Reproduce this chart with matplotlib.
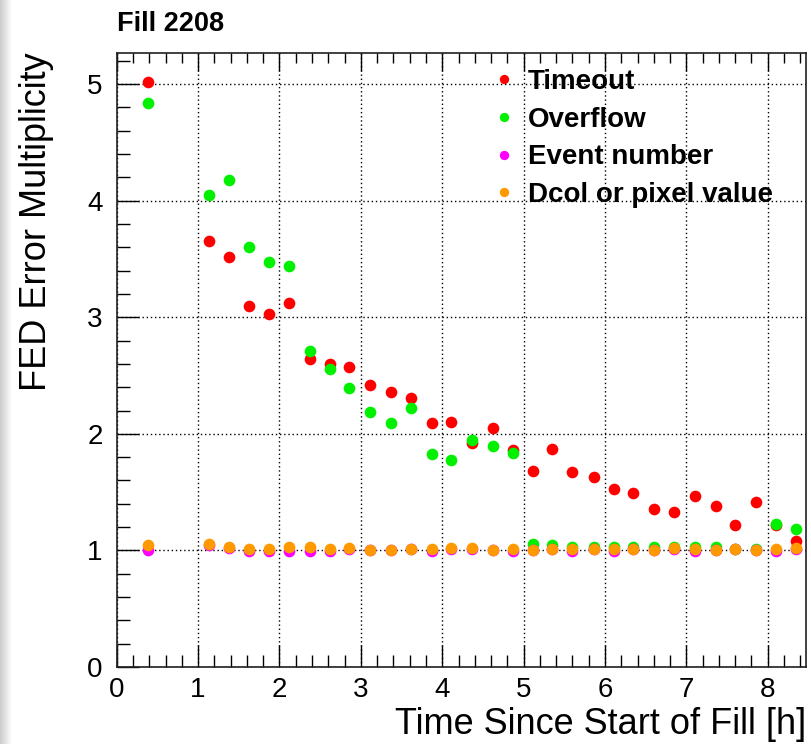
import numpy as np
import matplotlib
matplotlib.use("Agg")
import matplotlib.pyplot as plt
from matplotlib.ticker import MultipleLocator

plt.rcParams['font.family'] = ['Liberation Sans', 'DejaVu Sans']

title = "Fill 2208"
x_label = "Time Since Start of Fill [h]"
y_label = "FED Error Multiplicity"

time_h = [0.38, 1.13, 1.38, 1.62, 1.87, 2.12, 2.375, 2.62, 2.86, 3.11, 3.37, 3.62,
          3.87, 4.11, 4.36, 4.62, 4.87, 5.11, 5.35, 5.60, 5.86, 6.11, 6.35, 6.60,
          6.85, 7.11, 7.36, 7.60, 7.85, 8.10, 8.35]

timeout = [5.02, 3.654, 3.517, 3.10, 3.03, 3.125, 2.64, 2.60, 2.57, 2.42, 2.356, 2.31,
           2.09, 2.10, 1.92, 2.05, 1.86, 1.68, 1.87, 1.67, 1.63, 1.53, 1.49, 1.355,
           1.33, 1.47, 1.38, 1.22, 1.415, 1.22, 1.08]

overflow = [4.84, 4.045, 4.18, 3.60, 3.474, 3.436, 2.71, 2.56, 2.39, 2.19, 2.09, 2.22,
            1.83, 1.78, 1.95, 1.90, 1.84, 1.055, 1.05, 1.03, 1.03, 1.03, 1.03, 1.03,
            1.03, 1.03, 1.03, 1.01, 1.01, 1.23, 1.18]

event_number = [1.0, 1.045, 1.02, 0.997, 0.997, 0.994, 0.995, 0.995, 1.01, 1.0, 1.0, 1.01,
                0.995, 1.015, 1.015, 1.0, 0.995, 1.0, 1.01, 0.995, 1.01, 0.995, 1.01, 1.0,
                1.015, 0.995, 1.0, 1.01, 1.0, 0.995, 1.015]

dcol_pixel = [1.049, 1.054, 1.026, 1.014, 1.014, 1.029, 1.027, 1.012, 1.02, 1.003, 1.003, 1.015,
              1.015, 1.02, 1.02, 1.006, 1.015, 1.003, 1.015, 1.015, 1.015, 1.015, 1.015, 1.003,
              1.02, 1.015, 1.003, 1.015, 1.003, 1.015, 1.02]

series = [
    ("Timeout", timeout, "#ff0000"),
    ("Overflow", overflow, "#00f000"),
    ("Event number", event_number, "#ff00ff"),
    ("Dcol or pixel value", dcol_pixel, "#ff9900"),
]

W, H = 812, 744
fig = plt.figure(figsize=(W / 100, H / 100), dpi=100)
fig.patch.set_facecolor("white")

# light gray shading at the left edge (screenshot border)
gax = fig.add_axes([0, 0, 12 / W, 1])
grad = np.linspace(0.80, 1.0, 64).reshape(1, -1)
gax.imshow(np.dstack([grad, grad, grad]), aspect="auto", extent=[0, 1, 0, 1])
gax.axis("off")

left, right = 116.7 / W, 806 / W
bottom, top = 1 - 667 / H, 1 - 52.7 / H
ax = fig.add_axes([left, bottom, right - left, top - bottom])

for name, vals, col in series:
    ax.plot(time_h, vals, linestyle="none", marker="o", markersize=8.4,
            markeredgewidth=0, color=col, label=name, zorder=3)

ax.set_xlim(0, 8.47)
ax.set_ylim(0, 5.27)
ax.xaxis.set_major_locator(MultipleLocator(1))
ax.xaxis.set_minor_locator(MultipleLocator(0.2))
ax.yaxis.set_major_locator(MultipleLocator(1))
ax.yaxis.set_minor_locator(MultipleLocator(0.2))

ax.grid(True, which="major", linestyle=(0, (1, 2)), color="black", linewidth=1.0)
ax.tick_params(axis="both", which="major", direction="in", length=16, width=1.0,
               labelsize=20, color="black")
ax.tick_params(axis="both", which="minor", direction="in", length=9, width=1.0)
ax.tick_params(axis="x", which="major", pad=7)
ax.tick_params(axis="y", which="major", pad=10)
ax.tick_params(right=False, which="both")

sec = ax.secondary_xaxis("top")
sec.xaxis.set_major_locator(MultipleLocator(1))
sec.xaxis.set_minor_locator(MultipleLocator(0.2))
sec.tick_params(axis="x", which="major", direction="in", length=13, width=1.0, labeltop=False)
sec.tick_params(axis="x", which="minor", direction="in", length=7, width=1.0)
sec.spines["top"].set_visible(False)

for s in ax.spines.values():
    s.set_linewidth(1.2)
    s.set_color("#202020")

ax.set_xlabel(x_label, fontsize=26, loc="right", labelpad=3)
ax.set_ylabel(y_label, fontsize=26, loc="top", labelpad=24)

fig.text(117 / W, 1 - 31 / H, title, fontsize=19.5, fontweight="bold",
         ha="left", va="baseline")

leg = ax.legend(loc="upper left", bbox_to_anchor=(0.51, 1.005), frameon=False,
                prop={"weight": "bold", "size": 20},
                handletextpad=0.25, labelspacing=0.42, markerscale=0.8,
                handlelength=1.2, borderpad=0.2)

fig.savefig("out.png", dpi=100)
